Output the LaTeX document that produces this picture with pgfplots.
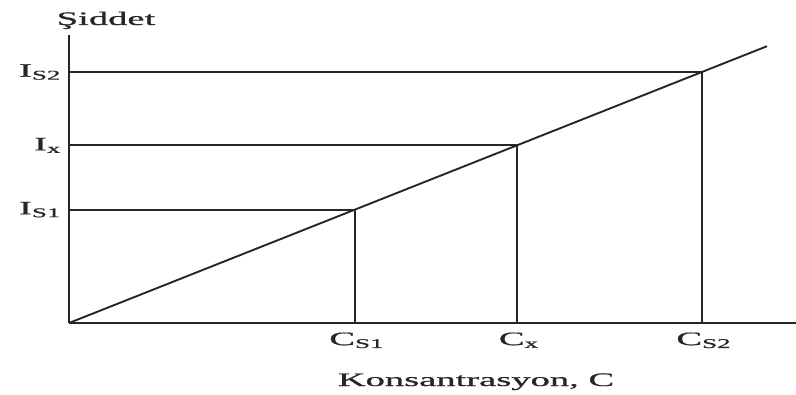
\documentclass[border=0pt]{standalone}
\usepackage{fontspec}
\setmainfont[FakeBold=0.7]{Liberation Serif}
\usepackage{graphicx}
\usepackage{pgfplots}
\pgfplotsset{compat=1.18}
% wide lettering, as in the printed figure
\newcommand{\wide}[1]{\scalebox{2.03}[1]{#1}}
\newcommand{\lbl}{\fontsize{19}{22}\selectfont}
\begin{document}
\begin{tikzpicture}
\useasboundingbox (-69pt,-71pt) rectangle (727pt,323pt);
\begin{axis}[
  at={(0pt,0pt)}, anchor=south west,
  scale only axis, width=727pt, height=288pt,
  xmin=0, xmax=727, ymin=0, ymax=288,
  axis lines*=left,
  axis line style={line width=2.2pt, black!85},
  major tick length=0pt,
  xtick={286,448,633},
  xticklabels={\wide{C\textsubscript{S1}},\wide{C\textsubscript{x}},\wide{C\textsubscript{S2}}},
  ytick={113.4,177.6,251},
  yticklabels={\wide{I\textsubscript{S1}},\wide{I\textsubscript{x}},\wide{I\textsubscript{S2}}},
  tick label style={font=\lbl, text=black!85},
  xticklabel style={yshift=-6pt, xshift=2pt},
  yticklabel style={xshift=-4pt},
  clip=false,
]
% calibration line
\addplot[black!85, line width=1.9pt] coordinates {(0,0) (698,276.8)};
% standards and unknown: horizontal read-offs
\addplot[black!85, line width=1.8pt] coordinates {(0,113.4) (286,113.4)};
\addplot[black!85, line width=1.8pt] coordinates {(0,177.6) (448,177.6)};
\addplot[black!85, line width=1.8pt] coordinates {(0,251) (633,251)};
% vertical drops to the concentration axis
\addplot[black!85, line width=2.3pt] coordinates {(286,0) (286,113.4)};
\addplot[black!85, line width=2.3pt] coordinates {(448,0) (448,177.6)};
\addplot[black!85, line width=2.3pt] coordinates {(633,0) (633,251)};
\node[anchor=base, text=black!85] at (axis cs:37,298) {\wide{\lbl Şiddet}};
\node[anchor=base, text=black!85] at (axis cs:407,-63) {\wide{\lbl Konsantrasyon, C}};
\end{axis}
\end{tikzpicture}
\end{document}
